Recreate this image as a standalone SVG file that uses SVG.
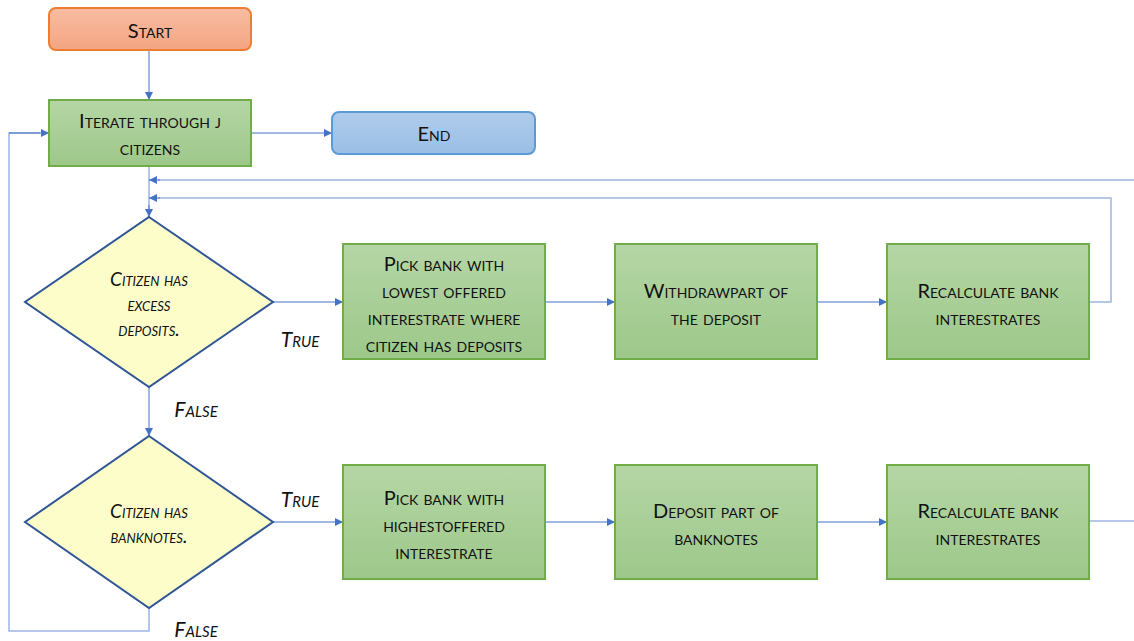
<svg xmlns="http://www.w3.org/2000/svg" width="1134" height="641" viewBox="0 0 1134 641">
  <defs>
    <linearGradient id="gGreen" x1="0" y1="0" x2="0" y2="1">
      <stop offset="0" stop-color="#b5d6a5"/>
      <stop offset="1" stop-color="#9dc88a"/>
    </linearGradient>
    <linearGradient id="gOrange" x1="0" y1="0" x2="0" y2="1">
      <stop offset="0" stop-color="#f8bca2"/>
      <stop offset="1" stop-color="#f4a582"/>
    </linearGradient>
    <linearGradient id="gBlue" x1="0" y1="0" x2="0" y2="1">
      <stop offset="0" stop-color="#b0cbeb"/>
      <stop offset="1" stop-color="#9abfe5"/>
    </linearGradient>
    <marker id="arrow" viewBox="0 0 10 10" refX="10" refY="5" markerWidth="9" markerHeight="8" markerUnits="userSpaceOnUse" orient="auto">
      <path d="M0,0 L10,5 L0,10 z" fill="#4472c4"/>
    </marker>
  </defs>
  <style>
    .proc { fill: url(#gGreen); stroke: #70ad47; stroke-width: 2; }
    .term-start { fill: url(#gOrange); stroke: #ed7d31; stroke-width: 2; }
    .term-end { fill: url(#gBlue); stroke: #5b9bd5; stroke-width: 2; }
    .decision { fill: #fdfdc9; stroke: #2f5597; stroke-width: 2; }
    .lbl { font-family: Lato, "Open Sans", "Liberation Sans", sans-serif; font-size: 20px; font-variant: small-caps; fill: #111; text-anchor: middle; dominant-baseline: central; }
    .dlbl { font-family: Lato, "Open Sans", "Liberation Sans", sans-serif; font-size: 19px; font-style: italic; font-variant: small-caps; fill: #111; text-anchor: middle; dominant-baseline: central; }
    .branch { font-family: Lato, "Open Sans", "Liberation Sans", sans-serif; font-size: 21px; font-style: italic; font-variant: small-caps; fill: #111; text-anchor: middle; dominant-baseline: central; }
    .flow { fill: none; stroke: #4472c4; stroke-width: 1; }
    .loop { fill: none; stroke: #9db5e2; stroke-width: 1.5; }
  </style>

  <!-- connectors -->
  <g id="connectors">
    <line class="flow" x1="149" y1="50" x2="149" y2="100" marker-end="url(#arrow)"/>
    <line class="flow" x1="251" y1="133" x2="332" y2="133" marker-end="url(#arrow)"/>
    <line class="loop" x1="149" y1="166" x2="149" y2="210"/>
    <line class="flow" x1="149" y1="205" x2="149" y2="217" marker-end="url(#arrow)"/>
    <!-- return lines from the processing rows -->
    <line class="loop" x1="1134" y1="180" x2="158" y2="180"/>
    <line class="flow" x1="160" y1="180" x2="149" y2="180" marker-end="url(#arrow)"/>
    <polyline class="loop" points="1089,302 1111,302 1111,198 158,198"/>
    <line class="flow" x1="160" y1="198" x2="149" y2="198" marker-end="url(#arrow)"/>
    <!-- excess deposits branch -->
    <line class="flow" x1="273" y1="302" x2="343" y2="302" marker-end="url(#arrow)"/>
    <line class="flow" x1="545" y1="302" x2="615" y2="302" marker-end="url(#arrow)"/>
    <line class="flow" x1="817" y1="302" x2="887" y2="302" marker-end="url(#arrow)"/>
    <line class="flow" x1="149" y1="387" x2="149" y2="436" marker-end="url(#arrow)"/>
    <!-- banknotes branch -->
    <line class="flow" x1="273" y1="522" x2="343" y2="522" marker-end="url(#arrow)"/>
    <line class="flow" x1="545" y1="522" x2="615" y2="522" marker-end="url(#arrow)"/>
    <line class="flow" x1="817" y1="522" x2="887" y2="522" marker-end="url(#arrow)"/>
    <line class="loop" x1="1089" y1="521" x2="1134" y2="521"/>
    <!-- back to the citizen loop -->
    <polyline class="loop" points="149,608 149,631 9,631 9,133 40,133"/>
    <line class="flow" x1="9" y1="133" x2="49" y2="133" marker-end="url(#arrow)"/>
  </g>

  <g id="start">
    <rect class="term-start" x="49" y="8" width="202" height="42" rx="7"/>
    <text class="lbl" x="150" y="30">Start</text>
  </g>

  <g id="iterate">
    <rect class="proc" x="49" y="100" width="202" height="66"/>
    <text class="lbl" x="150" y="120">Iterate through j</text>
    <text class="lbl" x="150" y="147">citizens</text>
  </g>

  <g id="end">
    <rect class="term-end" x="332" y="112" width="203" height="42" rx="7"/>
    <text class="lbl" x="434" y="133">End</text>
  </g>

  <g id="excess-deposits">
    <polygon class="decision" points="149,217 273,302 149,387 25,302"/>
    <text class="dlbl" x="149" y="278">Citizen has</text>
    <text class="dlbl" x="149" y="303">excess</text>
    <text class="dlbl" x="149" y="328">deposits.</text>
  </g>

  <g id="has-banknotes">
    <polygon class="decision" points="149,436 273,522 149,608 25,522"/>
    <text class="dlbl" x="149" y="510">Citizen has</text>
    <text class="dlbl" x="149" y="535">banknotes.</text>
  </g>

  <g id="pick-lowest">
    <rect class="proc" x="343" y="244" width="202" height="115"/>
    <text class="lbl" x="444" y="263">Pick bank with</text>
    <text class="lbl" x="444" y="290">lowest offered</text>
    <text class="lbl" x="444" y="317">interestrate where</text>
    <text class="lbl" x="444" y="344">citizen has deposits</text>
  </g>

  <g id="withdraw">
    <rect class="proc" x="615" y="244" width="202" height="115"/>
    <text class="lbl" x="716" y="290">Withdrawpart of</text>
    <text class="lbl" x="716" y="317">the deposit</text>
  </g>

  <g id="recalc-top">
    <rect class="proc" x="887" y="244" width="202" height="115"/>
    <text class="lbl" x="988" y="290">Recalculate bank</text>
    <text class="lbl" x="988" y="317">interestrates</text>
  </g>

  <g id="pick-highest">
    <rect class="proc" x="343" y="465" width="202" height="114"/>
    <text class="lbl" x="444" y="497">Pick bank with</text>
    <text class="lbl" x="444" y="524">highestoffered</text>
    <text class="lbl" x="444" y="551">interestrate</text>
  </g>

  <g id="deposit">
    <rect class="proc" x="615" y="465" width="202" height="114"/>
    <text class="lbl" x="716" y="510">Deposit part of</text>
    <text class="lbl" x="716" y="537">banknotes</text>
  </g>

  <g id="recalc-bottom">
    <rect class="proc" x="887" y="465" width="202" height="114"/>
    <text class="lbl" x="988" y="510">Recalculate bank</text>
    <text class="lbl" x="988" y="537">interestrates</text>
  </g>

  <g id="branch-labels">
    <text class="branch" x="300" y="338">True</text>
    <text class="branch" x="196" y="408">False</text>
    <text class="branch" x="300" y="498">True</text>
    <text class="branch" x="196" y="628">False</text>
  </g>
</svg>
